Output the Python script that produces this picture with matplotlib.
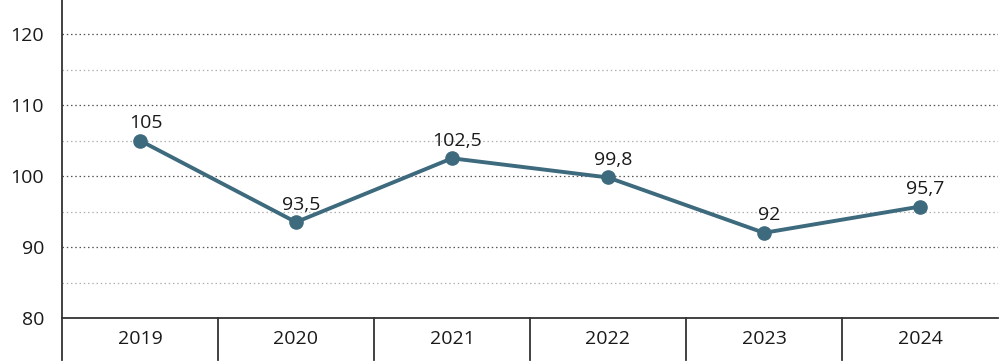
import matplotlib
matplotlib.use("Agg")
import matplotlib.pyplot as plt
import matplotlib.transforms as mtransforms
from matplotlib.lines import Line2D

years = ["2019", "2020", "2021", "2022", "2023", "2024"]
values = [105, 93.5, 102.5, 99.8, 92, 95.7]
value_labels = ["105", "93,5", "102,5", "99,8", "92", "95,7"]
major_ticks = [80, 90, 100, 110, 120]
minor_ticks = [85, 95, 105, 115]

plt.rcParams['font.family'] = ['Open Sans', 'DejaVu Sans']

W, H = 1000, 362
fig = plt.figure(figsize=(W / 100, H / 100), dpi=100)
left_px, bottom_px = 62, 318
ax = fig.add_axes([left_px / W, 1 - bottom_px / H, (998 - left_px) / W, bottom_px / H])

line_color = "#3d6a7d"
text_color = "#1a1a1a"
x = list(range(len(years)))

ax.set_xlim(-0.5, len(years) - 0.5)
ax.set_ylim(80, 124.8)

# grid
for t in major_ticks[1:]:
    ax.axhline(t, color="#555555", lw=0.9, ls=(0, (1.2, 2.2)), zorder=1)
for t in minor_ticks:
    ax.axhline(t, color="#b0b0b0", lw=0.9, ls=(0, (1.2, 2.2)), zorder=1)

ax.plot(x, values, color=line_color, lw=2.8, marker="o", markersize=9.5,
        markerfacecolor=line_color, markeredgecolor=line_color, zorder=3,
        solid_capstyle="round")

for xi, v, lab in zip(x, values, value_labels):
    ax.annotate(lab, (xi, v), xytext=(4, 6), textcoords="offset points",
                ha="center", va="bottom", fontsize=14, color=text_color, zorder=4)

# spines
for s in ["top", "right"]:
    ax.spines[s].set_visible(False)
ax.spines["left"].set_color("#333333")
ax.spines["bottom"].set_color("#333333")
ax.spines["left"].set_linewidth(1.3)
ax.spines["bottom"].set_linewidth(1.3)

ax.set_yticks(major_ticks)
ax.set_yticklabels([str(t) for t in major_ticks])
ax.tick_params(axis="y", length=0, pad=13, labelsize=14, labelcolor=text_color)

ax.set_xticks(x)
ax.set_xticklabels(years)
ax.tick_params(axis="x", length=0, pad=9, labelsize=14, labelcolor=text_color)

# category separators and extended left spine below axis
trans = mtransforms.blended_transform_factory(ax.transData, ax.transAxes)
ext = -42 / bottom_px
for b in [i + 0.5 for i in range(len(years) - 1)]:
    ax.add_line(Line2D([b, b], [0, ext], transform=trans, color="#333333",
                       lw=1.3, clip_on=False))
ax.add_line(Line2D([-0.5, -0.5], [0, ext], transform=trans, color="#333333",
                   lw=1.3, clip_on=False))

fig.savefig("out.png", dpi=100)
